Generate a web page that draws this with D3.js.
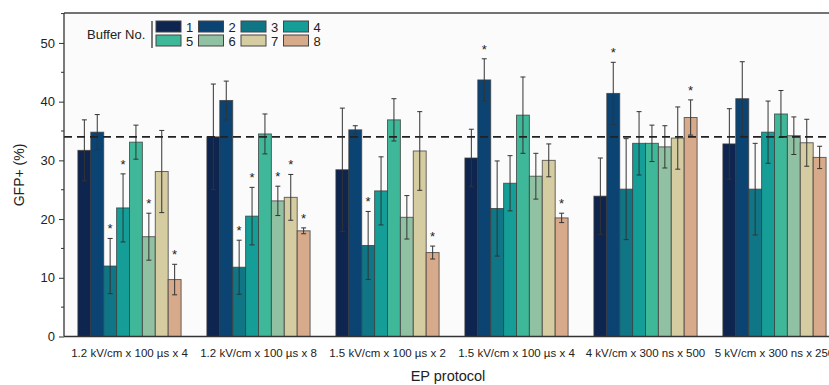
<!DOCTYPE html>
<html>
<head>
<meta charset="utf-8">
<script src="https://cdn.jsdelivr.net/npm/d3@7"></script>
<style>
  body { margin: 0; background: #fff; }
  svg { display: block; font-family: "Liberation Sans", Arial, sans-serif; }
</style>
</head>
<body>
<div id="chart"></div>
<script>
const protocols = [
    "1.2 kV/cm x 100 µs x 4", "1.2 kV/cm x 100 µs x 8", "1.5 kV/cm x 100 µs x 2",
    "1.5 kV/cm x 100 µs x 4", "4 kV/cm x 300 ns x 500", "5 kV/cm x 300 ns x 250"
];
const buffers = ["1", "2", "3", "4", "5", "6", "7", "8"];
const colors = ["#0e2550", "#0b4473", "#107686", "#149e97", "#3fb89a", "#91c1a3", "#d6cca1", "#d6aa8b"];

// mean GFP+ (%) per protocol, buffers 1..8
const means = [
    [31.7, 34.8, 12.0, 21.9, 33.1, 17.0, 28.1, 9.7],
    [34.0, 40.2, 11.8, 20.5, 34.5, 23.1, 23.7, 18.0],
    [28.4, 35.2, 15.5, 24.8, 36.9, 20.3, 31.6, 14.3],
    [30.4, 43.7, 21.8, 26.1, 37.7, 27.3, 30.0, 20.2],
    [23.9, 41.4, 25.1, 32.9, 32.9, 32.3, 33.8, 37.3],
    [32.8, 40.5, 25.1, 34.8, 37.9, 34.2, 33.0, 30.5]
];
const errors = [
    [5.2, 3.0, 4.7, 5.8, 2.9, 4.0, 7.0, 2.6],
    [9.0, 3.3, 4.6, 4.9, 3.4, 2.5, 3.9, 0.5],
    [10.5, 0.7, 5.8, 5.8, 3.6, 3.7, 6.7, 1.1],
    [4.9, 3.6, 8.1, 4.7, 6.5, 3.9, 2.8, 0.8],
    [6.5, 5.3, 8.6, 5.4, 3.1, 3.6, 5.3, 3.0],
    [6.0, 6.3, 7.8, 5.3, 4.0, 3.2, 4.0, 1.9]
];
// significance markers: [protocol index, buffer index]
const stars = [[0, 2], [0, 3], [0, 5], [0, 7], [1, 2], [1, 3], [1, 5], [1, 6], [1, 7],
    [2, 2], [2, 7], [3, 1], [3, 7], [4, 1], [4, 7]];
const controlLevel = 34.0;
const yTicks = [0, 10, 20, 30, 40, 50];

const width = 829, height = 385;
const plotLeft = 64, plotTop = 13, plotBottom = 336.5;

const svg = d3.select("#chart").append("svg")
    .attr("width", width).attr("height", height);

const x0 = d3.scaleBand().domain(protocols).range([65, 839]).paddingInner(0.2).paddingOuter(0.1);
const x1 = d3.scaleBand().domain(buffers).range([0, x0.bandwidth()]);
const y = d3.scaleLinear().domain([0, 55.1]).range([plotBottom, plotTop]);

svg.append("rect").attr("x", plotLeft).attr("y", plotTop)
    .attr("width", width - plotLeft).attr("height", plotBottom - plotTop)
    .attr("fill", "#fbfbfb");

const rows = protocols.flatMap((p, gi) => buffers.map((b, bi) => ({
    p, b, gi, bi, v: means[gi][bi], e: errors[gi][bi]
})));

svg.append("g").selectAll("rect").data(rows).enter().append("rect")
    .attr("x", d => x0(d.p) + x1(d.b))
    .attr("y", d => y(d.v))
    .attr("width", x1.bandwidth())
    .attr("height", d => y(0) - y(d.v))
    .attr("fill", d => colors[d.bi])
    .attr("stroke", "#3a3a3a").attr("stroke-opacity", 0.75).attr("stroke-width", 1);

// error bars
const eg = svg.append("g").attr("stroke", "#333").attr("stroke-width", 1);
rows.forEach(d => {
    const cx = x0(d.p) + x1(d.b) + x1.bandwidth() / 2;
    eg.append("line").attr("x1", cx).attr("x2", cx).attr("y1", y(d.v + d.e)).attr("y2", y(d.v - d.e));
    [d.v + d.e, d.v - d.e].forEach(v => {
        eg.append("line").attr("x1", cx - 2.5).attr("x2", cx + 2.5).attr("y1", y(v)).attr("y2", y(v));
    });
});

// stars
svg.append("g").selectAll("text").data(stars).enter().append("text")
    .attr("x", d => x0(protocols[d[0]]) + x1(buffers[d[1]]) + x1.bandwidth() / 2)
    .attr("y", d => y(means[d[0]][d[1]] + errors[d[0]][d[1]]) - 5)
    .attr("text-anchor", "middle").attr("font-size", 13).attr("fill", "#222")
    .text("*");

// control dashed line
svg.append("line").attr("x1", plotLeft).attr("x2", width)
    .attr("y1", y(controlLevel)).attr("y2", y(controlLevel))
    .attr("stroke", "#222").attr("stroke-width", 1.6).attr("stroke-dasharray", "8,5");

// frame top
svg.append("line").attr("x1", plotLeft).attr("x2", width).attr("y1", plotTop).attr("y2", plotTop)
    .attr("stroke", "#444").attr("stroke-width", 1.5);

// y axis
const yAxis = svg.append("g").attr("transform", `translate(${plotLeft},0)`)
    .call(d3.axisLeft(y).tickValues(yTicks).tickSize(5).tickPadding(4).tickFormat(d3.format("d")));
yAxis.append("g").selectAll("line").data(yTicks.map(t => t + 5)).enter().append("line")
    .attr("x1", 0).attr("x2", -3).attr("y1", d => y(d)).attr("y2", d => y(d)).attr("stroke", "#333");
yAxis.select(".domain").attr("d", `M0,${plotTop}V${plotBottom}`).attr("stroke", "#333").attr("stroke-width", 1.3);
yAxis.selectAll(".tick line").attr("stroke", "#333");
yAxis.selectAll("text").attr("font-size", 13).attr("fill", "#222")
    .attr("font-family", "Liberation Sans, Arial, sans-serif");

// x axis
const xAxis = svg.append("g").attr("transform", `translate(0,${plotBottom})`)
    .call(d3.axisBottom(x0).tickSize(0).tickPadding(12));
xAxis.select(".domain").attr("d", `M${plotLeft},0H${width}`).attr("stroke", "#333").attr("stroke-width", 1.3);
xAxis.selectAll("text").attr("font-size", 11.5).attr("fill", "#222")
    .attr("font-family", "Liberation Sans, Arial, sans-serif");

// axis titles
svg.append("text").attr("x", 448).attr("y", 381).attr("text-anchor", "middle")
    .attr("font-size", 14.5).attr("fill", "#222").text("EP protocol");
svg.append("text").attr("transform", "translate(24,175) rotate(-90)").attr("text-anchor", "middle")
    .attr("font-size", 14).attr("fill", "#222").text("GFP+ (%)");

// legend
const lg = svg.append("g");
lg.append("text").attr("x", 87).attr("y", 39).attr("font-size", 13).attr("fill", "#222").text("Buffer No.");
lg.append("line").attr("x1", 152).attr("x2", 152).attr("y1", 21).attr("y2", 48)
    .attr("stroke", "#333").attr("stroke-width", 1.3);
buffers.forEach((b, i) => {
    const cx = 156 + (i % 4) * 42.5, cy = 21 + Math.floor(i / 4) * 14;
    lg.append("rect").attr("x", cx).attr("y", cy).attr("width", 25).attr("height", 11)
        .attr("fill", colors[i]).attr("stroke", "#444").attr("stroke-width", 1);
    lg.append("text").attr("x", cx + 30).attr("y", cy + 10.5).attr("font-size", 13).attr("fill", "#222").text(b);
});
</script>
</body>
</html>
